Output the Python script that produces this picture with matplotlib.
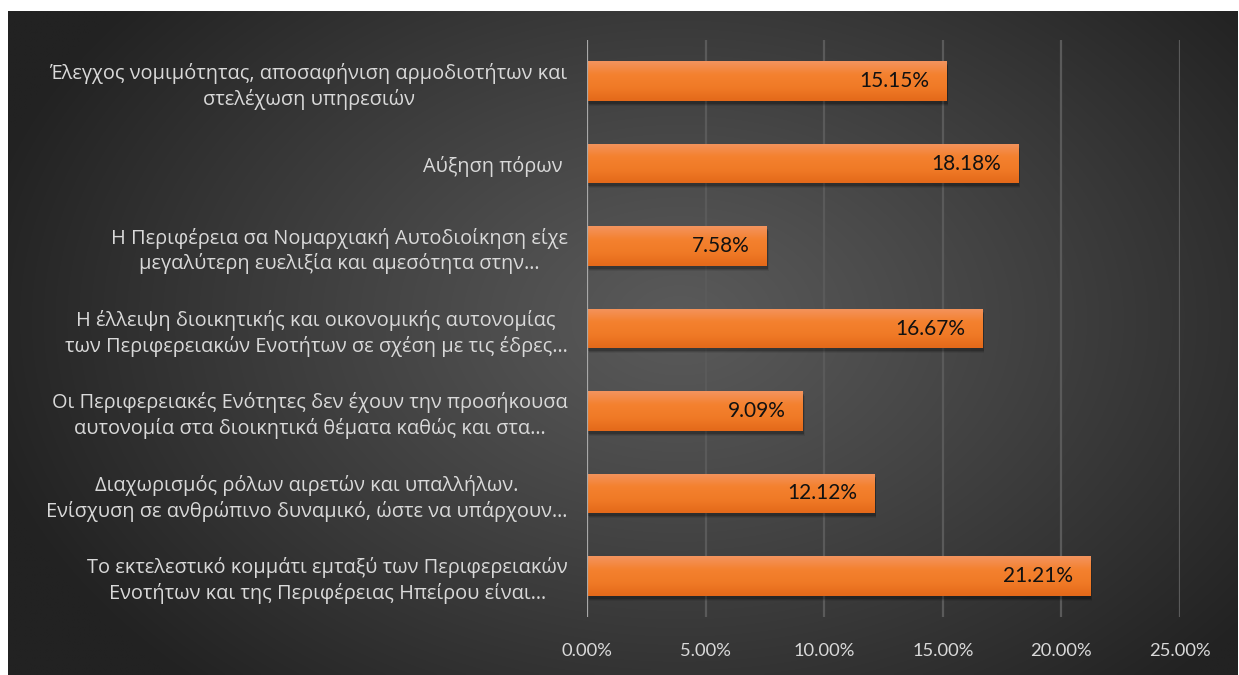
import numpy as np
import matplotlib
matplotlib.use("Agg")
import matplotlib.pyplot as plt
from matplotlib.colors import LinearSegmentedColormap

categories = [
    "Έλεγχος νομιμότητας, αποσαφήνιση αρμοδιοτήτων και\nστελέχωση υπηρεσιών",
    "Αύξηση πόρων ",
    "Η Περιφέρεια σα Νομαρχιακή Αυτοδιοίκηση είχε\nμεγαλύτερη ευελιξία και αμεσότητα στην…",
    "Η έλλειψη διοικητικής και οικονομικής αυτονομίας\nτων Περιφερειακών Ενοτήτων σε σχέση με τις έδρες…",
    "Οι Περιφερειακές Ενότητες δεν έχουν την προσήκουσα\nαυτονομία στα διοικητικά θέματα καθώς και στα…",
    "Διαχωρισμός ρόλων αιρετών και υπαλλήλων.\nΕνίσχυση σε ανθρώπινο δυναμικό, ώστε να υπάρχουν…",
    "Το εκτελεστικό κομμάτι εμταξύ των Περιφερειακών\nΕνοτήτων και της Περιφέρειας Ηπείρου είναι…",
]
values = [15.15, 18.18, 7.58, 16.67, 9.09, 12.12, 21.21]
value_labels = ["15.15%", "18.18%", "7.58%", "16.67%", "9.09%", "12.12%", "21.21%"]
xticks = [0, 5, 10, 15, 20, 25]
xtick_labels = ["0.00%", "5.00%", "10.00%", "15.00%", "20.00%", "25.00%"]

W, H = 1239, 675
fig = plt.figure(figsize=(W / 100, H / 100), dpi=100)
fig.patch.set_facecolor("white")

# background panel with radial gradient
px0, py0, px1, py1 = 8, 11, 1238, 675
bg = fig.add_axes([px0 / W, 1 - py1 / H, (px1 - px0) / W, (py1 - py0) / H])
bg.set_axis_off()
gx = np.linspace(px0, px1, 400)
gy = np.linspace(py0, py1, 240)
XX, YY = np.meshgrid(gx, gy)
cx, cy = 680, 320
d = np.sqrt(((XX - cx) / 720.0) ** 2 + ((YY - cy) / 500.0) ** 2)
d = np.clip(d, 0, 1)
val = (90 - (90 - 34) * d ** 1.1) / 255.0
img = np.dstack([val, val, val])
bg.imshow(img, aspect="auto", extent=[0, 1, 0, 1], interpolation="bilinear")
bg.set_xlim(0, 1)
bg.set_ylim(0, 1)

ax = fig.add_axes([587 / W, 1 - 617 / H, (1180 - 587) / W, (617 - 40) / H])
ax.set_facecolor("none")
ax.set_xlim(0, 25)
n = len(categories)
ax.set_ylim(n - 0.5, -0.5)

for x in xticks[1:]:
    ax.axvline(x, color="#5a5a5a", lw=1.6, zorder=0)
ax.axvline(0, color="#a8a8a8", lw=1.6, zorder=4)

bar_h = 0.48
ypos = np.arange(n)
px_y = 1.0 / 82.4
px_x = 25.0 / 593.0

# shadows
for k, a in zip([5, 4, 3], [0.08, 0.12, 0.18]):
    ax.barh(ypos + k * px_y, values, height=bar_h, left=k * 0.4 * px_x,
            color="black", alpha=a, zorder=1, linewidth=0)

bars = ax.barh(ypos, values, height=bar_h, color="#f27a2a", zorder=2, linewidth=0)
orange = LinearSegmentedColormap.from_list(
    "org", ["#f3945e", "#f4812f", "#f07a26", "#e4691a"])
grad = np.linspace(0, 1, 64).reshape(-1, 1)
for b in bars:
    x0, y0 = b.get_x(), b.get_y()
    w, h = b.get_width(), b.get_height()
    im = ax.imshow(grad, cmap=orange, aspect="auto",
                   extent=[x0, x0 + w, y0 + h, y0], zorder=3,
                   interpolation="bilinear")
    im.set_clip_path(b)

for y, v, lab in zip(ypos, values, value_labels):
    ax.annotate(lab, (v, y), xytext=(-17, 0), textcoords="offset pixels",
                ha="right", va="center", fontsize=15, color="#111111",
                family=["Lato", "DejaVu Sans"], zorder=5)

ax.set_xticks(xticks)
ax.set_xticklabels(xtick_labels, family=["Lato", "DejaVu Sans"],
                   fontsize=13.2, color="#d9d9d9")
ax.set_yticks(ypos)
ax.set_yticklabels(categories, family=["Open Sans", "DejaVu Sans"],
                   fontsize=14.4, color="#d9d9d9")
for t in ax.get_yticklabels():
    t.set_multialignment("center")
    t.set_linespacing(1.3)
ax.tick_params(axis="x", length=0, pad=19)
ax.tick_params(axis="y", length=0, pad=14)
for s in ax.spines.values():
    s.set_visible(False)

fig.savefig("out.png", dpi=100, facecolor="white")
